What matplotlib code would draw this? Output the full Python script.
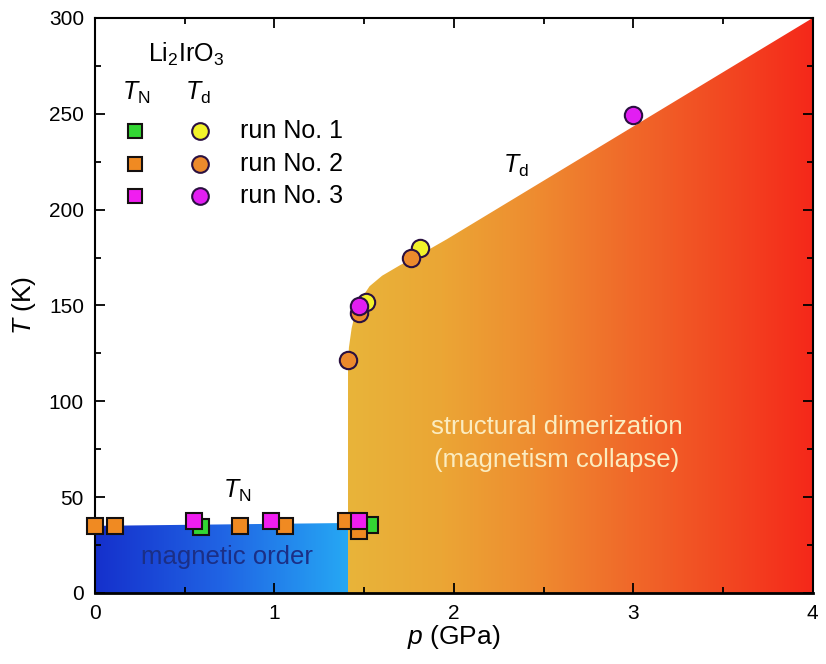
import numpy as np
import matplotlib.pyplot as plt
from matplotlib.colors import LinearSegmentedColormap
from matplotlib.patches import Polygon

plt.rcParams['font.family'] = ['Liberation Sans', 'DejaVu Sans']
plt.rcParams['mathtext.fontset'] = 'custom'
plt.rcParams['mathtext.rm'] = 'Liberation Sans'
plt.rcParams['mathtext.it'] = 'Liberation Sans:italic'

# T_N points (squares), p in GPa, T in K
tn_run1_p = [0.59, 1.53]
tn_run1_T = [34.5, 35.5]
tn_run2_p = [0.0, 0.11, 0.81, 1.06, 1.47, 1.40]
tn_run2_T = [35.0, 35.0, 35.0, 34.8, 32.3, 37.5]
tn_run3_p = [0.55, 0.98, 1.47]
tn_run3_T = [37.7, 37.7, 37.5]

# T_d points (circles)
td_run1_p = [1.51, 1.81]
td_run1_T = [152, 180]
td_run2_p = [1.41, 1.47, 1.76]
td_run2_T = [121.5, 146, 174.5]
td_run3_p = [1.47, 3.0]
td_run3_T = [149.5, 249.5]

# phase boundaries
td_line_p = [1.41, 1.41, 1.415, 1.43, 1.45, 1.48, 1.53, 1.60, 1.70, 1.82, 1.96, 4.0]
td_line_T = [0, 118, 128, 138, 146, 153, 160, 165.5, 171, 177, 184.5, 300]
tn_line_p = [0, 1.41]
tn_line_T = [35, 36.5]

run_labels = ['run No. 1', 'run No. 2', 'run No. 3']
sq_colors = ['#33d633', '#f08a22', '#f01ef0']
ci_colors = ['#f2f22a', '#ec8a2c', '#e21ef2']

fig = plt.figure(figsize=(8.26, 6.64), dpi=100)
ax = fig.add_axes([0.115, 0.107, 0.869, 0.866])

# blue region (magnetic order)
blue_cmap = LinearSegmentedColormap.from_list('blue', ['#1530cc', '#2064e4', '#26a8f4'])
im = ax.imshow(np.linspace(0, 1, 300).reshape(1, -1), cmap=blue_cmap, aspect='auto',
               extent=(tn_line_p[0], tn_line_p[1], 0, 40), zorder=0.5)
blue_poly = Polygon([(tn_line_p[0], 0), (tn_line_p[0], tn_line_T[0]),
                     (tn_line_p[1], tn_line_T[1]), (tn_line_p[1], 0)],
                    closed=True, transform=ax.transData)
im.set_clip_path(blue_poly)

# orange/red region (dimerization)
red_cmap = LinearSegmentedColormap.from_list(
    'red', ['#e8b43a', '#eba635', '#ee8c30', '#f06a2a', '#f24a22', '#f5281a'])
im2 = ax.imshow(np.linspace(0, 1, 600).reshape(1, -1), cmap=red_cmap, aspect='auto',
                extent=(td_line_p[0], 4, 0, 300), zorder=0.5)
verts = list(zip(td_line_p, td_line_T)) + [(4, 0)]
red_poly = Polygon(verts, closed=True, transform=ax.transData)
im2.set_clip_path(red_poly)

# data points
sq_p = [tn_run1_p, tn_run2_p, tn_run3_p]
sq_T = [tn_run1_T, tn_run2_T, tn_run3_T]
ci_p = [td_run1_p, td_run2_p, td_run3_p]
ci_T = [td_run1_T, td_run2_T, td_run3_T]
for i in range(3):
    ax.plot(sq_p[i], sq_T[i], 's', ms=11, mfc=sq_colors[i], mec='#151010', mew=1.5,
            linestyle='none', zorder=3 + i, clip_on=False)
    ax.plot(ci_p[i], ci_T[i], 'o', ms=12.5, mfc=ci_colors[i], mec='#2a1040', mew=1.5,
            linestyle='none', zorder=3 + i, clip_on=False)

# hand-made legend
ax.text(0.295, 277, 'Li$_2$IrO$_3$', fontsize=18, ha='left', va='baseline')
ax.text(0.15, 261, '$T_\\mathrm{N}$', fontsize=18, ha='left', va='center')
ax.text(0.50, 261, '$T_\\mathrm{d}$', fontsize=18, ha='left', va='center')
leg_T = [241, 224, 207]
for i in range(3):
    ax.plot([0.223], [leg_T[i]], 's', ms=10, mfc=sq_colors[i], mec='#151010', mew=1.5, zorder=6)
    ax.plot([0.585], [leg_T[i]], 'o', ms=12, mfc=ci_colors[i], mec='#2a1040', mew=1.5, zorder=6)
    ax.text(0.81, leg_T[i], run_labels[i], fontsize=18, ha='left', va='center')

# annotations
ax.text(2.273, 223, '$T_\\mathrm{d}$', fontsize=18, ha='left', va='center')
ax.text(0.713, 53, '$T_\\mathrm{N}$', fontsize=18, ha='left', va='center')
ax.text(0.738, 19, 'magnetic order', fontsize=18.5, ha='center', va='center',
        color='#1b2f86', zorder=7)
ax.text(2.572, 78, 'structural dimerization\n(magnetism collapse)', fontsize=18.5,
        ha='center', va='center', color='#fbecc0', linespacing=1.45, zorder=7)

ax.set_xlim(0, 4)
ax.set_ylim(0, 300)
ax.set_xticks([0, 1, 2, 3, 4])
ax.set_xticks(np.arange(0, 4.01, 0.5), minor=True)
ax.set_yticks(np.arange(0, 301, 50))
ax.set_yticks(np.arange(0, 301, 25), minor=True)
ax.tick_params(which='both', direction='in', top=True, right=True, labelsize=15, width=1.3)
ax.tick_params(which='major', length=7, pad=8)
ax.tick_params(which='minor', length=4)
for s in ax.spines.values():
    s.set_linewidth(1.5)
ax.spines['bottom'].set_linewidth(2)

ax.set_xlabel('$p$ (GPa)', fontsize=19, labelpad=0)
ax.set_ylabel('$T$ (K)', fontsize=19, labelpad=8)

fig.savefig('out.png', dpi=100)
